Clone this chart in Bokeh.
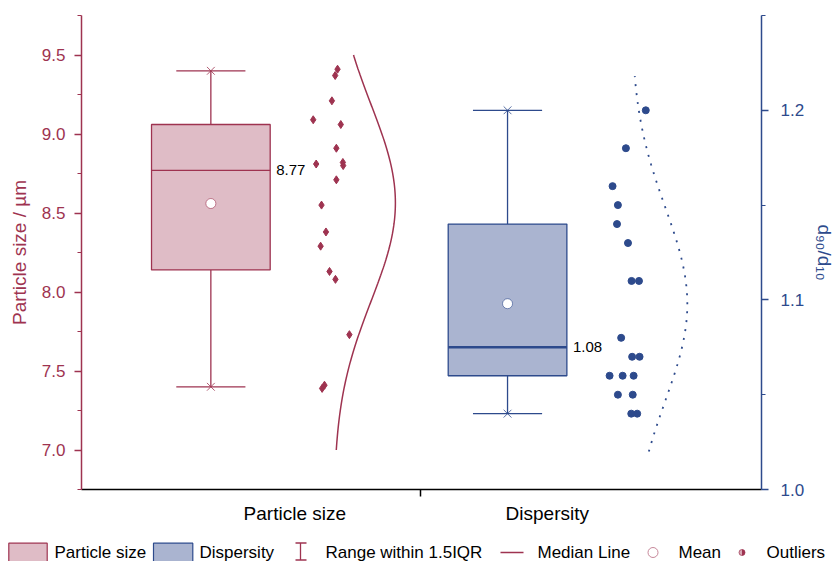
import numpy as np
from bokeh.plotting import figure
from bokeh.models import Range1d, LinearAxis, FixedTicker, Label
from bokeh.layouts import column
from bokeh.embed import file_html
from bokeh.resources import INLINE
from bokeh.core.properties import value

# ---------------- data ----------------
categories = ["Particle size", "Dispersity"]
cat_pos = [1.0, 2.0]

size_values = [9.41, 9.37, 9.21, 9.09, 9.06, 8.91, 8.81, 8.82, 8.80, 8.71,
               8.55, 8.38, 8.29, 8.13, 8.08, 7.73, 7.39, 7.41]
size_jitter = [0.427, 0.419, 0.408, 0.345, 0.438, 0.423, 0.355, 0.445, 0.446, 0.423,
               0.373, 0.388, 0.370, 0.400, 0.420, 0.467, 0.375, 0.383]

disp_values = [1.20, 1.18, 1.16, 1.15, 1.14, 1.13, 1.11, 1.11, 1.08, 1.07,
               1.07, 1.06, 1.06, 1.06, 1.05, 1.05, 1.04, 1.04]
disp_jitter = [0.466, 0.399, 0.354, 0.372, 0.369, 0.406, 0.418, 0.443, 0.383, 0.420,
               0.445, 0.344, 0.388, 0.425, 0.372, 0.422, 0.417, 0.437]

# box statistics (size, dispersity)
box_low = [7.40, 1.040]
box_q1 = [8.14, 1.060]
box_median = [8.77, 1.075]
box_q3 = [9.06, 1.140]
box_high = [9.40, 1.200]
box_mean = [8.56, 1.098]
median_labels = ["8.77", "1.08"]

# distribution curve span
curve_lo = [7.0, 1.02]
curve_hi = [9.5, 1.218]

left_ticks = [7.0, 7.5, 8.0, 8.5, 9.0, 9.5]
left_tick_labels = ["7.0", "7.5", "8.0", "8.5", "9.0", "9.5"]
left_minor = [6.75, 7.25, 7.75, 8.25, 8.75, 9.25, 9.75]
right_ticks = [1.0, 1.1, 1.2]
right_tick_labels = ["1.0", "1.1", "1.2"]
right_minor = [1.05, 1.15, 1.25]

legend_labels = ["Particle size", "Dispersity", "Range within 1.5IQR", "Median Line", "Mean", "Outliers"]

# ---------------- style ----------------
RED = "#9E3350"
BLUE = "#2D4A8C"
fills = ["#DFBCC6", "#AAB4D0"]
lines = [RED, BLUE]
FONT = "Liberation Sans"

X0, X1 = 0.564, 2.856

p = figure(width=838, height=530, x_range=Range1d(X0, X1), y_range=Range1d(6.75, 9.75),
           output_backend="svg", toolbar_location=None,
           min_border_left=81, min_border_right=75, min_border_top=15, min_border_bottom=41)
p.frame_align = False
p.extra_y_ranges = {"right": Range1d(1.0, 1.25)}
p.xgrid.visible = False
p.ygrid.visible = False
p.outline_line_color = None
p.background_fill_color = "white"

# left axis
ya = p.yaxis[0]
ya.ticker = FixedTicker(ticks=left_ticks, minor_ticks=left_minor)
ya.major_label_overrides = {t: l for t, l in zip(left_ticks, left_tick_labels)}
ya.axis_line_color = RED
ya.axis_line_width = 1.5
ya.major_tick_line_color = RED
ya.minor_tick_line_color = RED
ya.major_tick_line_width = 1.5
ya.minor_tick_line_width = 1.2
ya.major_tick_out = 7
ya.major_tick_in = 0
ya.minor_tick_out = 4
ya.minor_tick_in = 0
ya.major_label_text_color = RED
ya.major_label_text_font = FONT
ya.major_label_text_font_size = "17px"
ya.major_label_standoff = 9
ya.axis_label = "Particle size / µm"
ya.axis_label_text_color = RED
ya.axis_label_text_font = FONT
ya.axis_label_text_font_size = "19px"
ya.axis_label_text_font_style = "normal"
ya.axis_label_standoff = 9

# right axis
ra = LinearAxis(y_range_name="right", ticker=FixedTicker(ticks=right_ticks, minor_ticks=right_minor))
ra.major_label_overrides = {t: l for t, l in zip(right_ticks, right_tick_labels)}
ra.axis_line_color = BLUE
ra.axis_line_width = 1.5
ra.major_tick_line_color = BLUE
ra.minor_tick_line_color = BLUE
ra.major_tick_line_width = 1.5
ra.minor_tick_line_width = 1.2
ra.major_tick_out = 7
ra.major_tick_in = 0
ra.minor_tick_out = 4
ra.minor_tick_in = 0
ra.major_label_text_color = BLUE
ra.major_label_text_font = FONT
ra.major_label_text_font_size = "17px"
ra.major_label_standoff = 12
ra.axis_label = "d₉₀/d₁₀"
ra.axis_label_text_color = BLUE
ra.axis_label_text_font = FONT
ra.axis_label_text_font_size = "19px"
ra.axis_label_text_font_style = "normal"
ra.axis_label_standoff = 7
p.add_layout(ra, "right")

# bottom axis (line + middle tick)
xa = p.xaxis[0]
mid_tick = (cat_pos[0] + cat_pos[1]) / 2 + 0.207
xa.ticker = FixedTicker(ticks=[mid_tick], minor_ticks=[])
xa.major_label_overrides = {mid_tick: ""}
xa.major_label_text_font_size = "2px"
xa.major_label_standoff = 0
xa.axis_line_color = "black"
xa.axis_line_width = 1.5
xa.major_tick_line_color = "black"
xa.major_tick_line_width = 1.5
xa.major_tick_out = 7
xa.major_tick_in = 0

# category names (second bottom axis, labels only)
cat_label_x = [1.283, 2.134]
ca = LinearAxis(ticker=FixedTicker(ticks=cat_label_x, minor_ticks=[]))
ca.major_label_overrides = {t: c for t, c in zip(cat_label_x, categories)}
ca.axis_line_color = None
ca.major_tick_line_color = None
ca.minor_tick_line_color = None
ca.major_tick_out = 0
ca.major_tick_in = 0
ca.major_label_standoff = 6
ca.major_label_text_font = FONT
ca.major_label_text_font_size = "19px"
ca.major_label_text_color = "black"
p.add_layout(ca, "below")

for i, (pos, name) in enumerate(zip(cat_pos, categories)):
    rng = "default" if i == 0 else "right"
    vals = size_values if i == 0 else disp_values
    jit = size_jitter if i == 0 else disp_jitter
    col = lines[i]
    hw = 0.2
    cw = 0.1165
    # whiskers
    p.segment(x0=[pos, pos], y0=[box_q3[i], box_q1[i]], x1=[pos, pos], y1=[box_high[i], box_low[i]],
              line_color=col, line_width=1.3, y_range_name=rng)
    p.segment(x0=[pos - cw, pos - cw], y0=[box_high[i], box_low[i]], x1=[pos + cw, pos + cw],
              y1=[box_high[i], box_low[i]], line_color=col, line_width=1.3, y_range_name=rng)
    p.scatter(x=[pos, pos], y=[box_high[i], box_low[i]], marker="x", size=11, line_color=col,
              line_width=0.8, y_range_name=rng)
    # box
    p.quad(left=[pos - hw], right=[pos + hw], bottom=[box_q1[i]], top=[box_q3[i]],
           fill_color=fills[i], line_color=col, line_width=1.3, y_range_name=rng)
    p.segment(x0=[pos - hw], y0=[box_median[i]], x1=[pos + hw], y1=[box_median[i]],
              line_color=col, line_width=1.3 if i == 0 else 2.6, y_range_name=rng)
    p.scatter(x=[pos], y=[box_mean[i]], marker="circle", size=10, fill_color="white",
              line_color=col, line_width=0.6, y_range_name=rng)
    p.add_layout(Label(x=pos + hw, x_offset=6, y=box_median[i], y_range_name=rng, text=median_labels[i],
                       text_baseline="middle", text_align="left", text_font=FONT,
                       text_font_size="15px", text_color="black"))
    # points
    xs = [pos + j for j in jit]
    p.scatter(x=xs, y=vals, marker="diamond" if i == 0 else "circle", size=8 if i == 0 else 7,
              fill_color=col, line_color=col, y_range_name=rng)
    # normal curve
    arr = np.array(vals)
    mu, sd = arr.mean(), arr.std(ddof=1)
    yy = np.linspace(curve_lo[i], curve_hi[i], 200)
    dens = np.exp(-0.5 * ((yy - mu) / sd) ** 2)
    base = pos + (0.414 if i == 0 else 0.417)
    amp = 0.208 if i == 0 else 0.189
    if i == 0:
        p.line(x=base + amp * dens, y=yy, line_color=col, line_width=1.5, y_range_name=rng)
    else:
        p.line(x=base + amp * dens, y=yy, line_color=col, line_width=1.8, line_dash="2 7",
               y_range_name=rng)

# ---------------- legend strip (page pixel coordinates) ----------------
lf = figure(width=838, height=31, x_range=Range1d(0, 838), y_range=Range1d(561, 530),
            output_backend="svg", toolbar_location=None, min_border=0,
            x_axis_location=None, y_axis_location=None)
lf.frame_align = False
lf.xgrid.visible = False
lf.ygrid.visible = False
lf.outline_line_color = None

lf.quad(left=[8.3, 153], right=[46.7, 192.3], top=[542.7, 542.7], bottom=[563, 563],
        fill_color=fills, line_color=lines, line_width=1.2)
lf.segment(x0=[300, 295, 295], y0=[542.5, 542.5, 559.5], x1=[300, 306, 306], y1=[559.5, 542.5, 559.5],
           line_color=RED, line_width=1.3)
lf.segment(x0=[500], y0=[552], x1=[523], y1=[552], line_color=RED, line_width=1.5)
lf.scatter(x=[652.5], y=[552], marker="circle", size=10, fill_color="white", line_color="#C07A8E", line_width=0.9)
lf.scatter(x=[741.5], y=[552], marker="circle", size=6, fill_color="#D8A8B5", line_color=RED, line_width=0.7)
lf.wedge(x=[741.5], y=[552], radius=3, start_angle=-np.pi / 2, end_angle=np.pi / 2,
         fill_color=RED, line_color=None)
lf.text(x=[54, 199, 325, 537, 678, 766], y=[552] * 6, text=legend_labels,
        text_font=value(FONT), text_font_size="17px", text_baseline="middle", text_color="black")

layout = column(p, lf, spacing=0)
open("out.html", "w").write(file_html(layout, INLINE))
